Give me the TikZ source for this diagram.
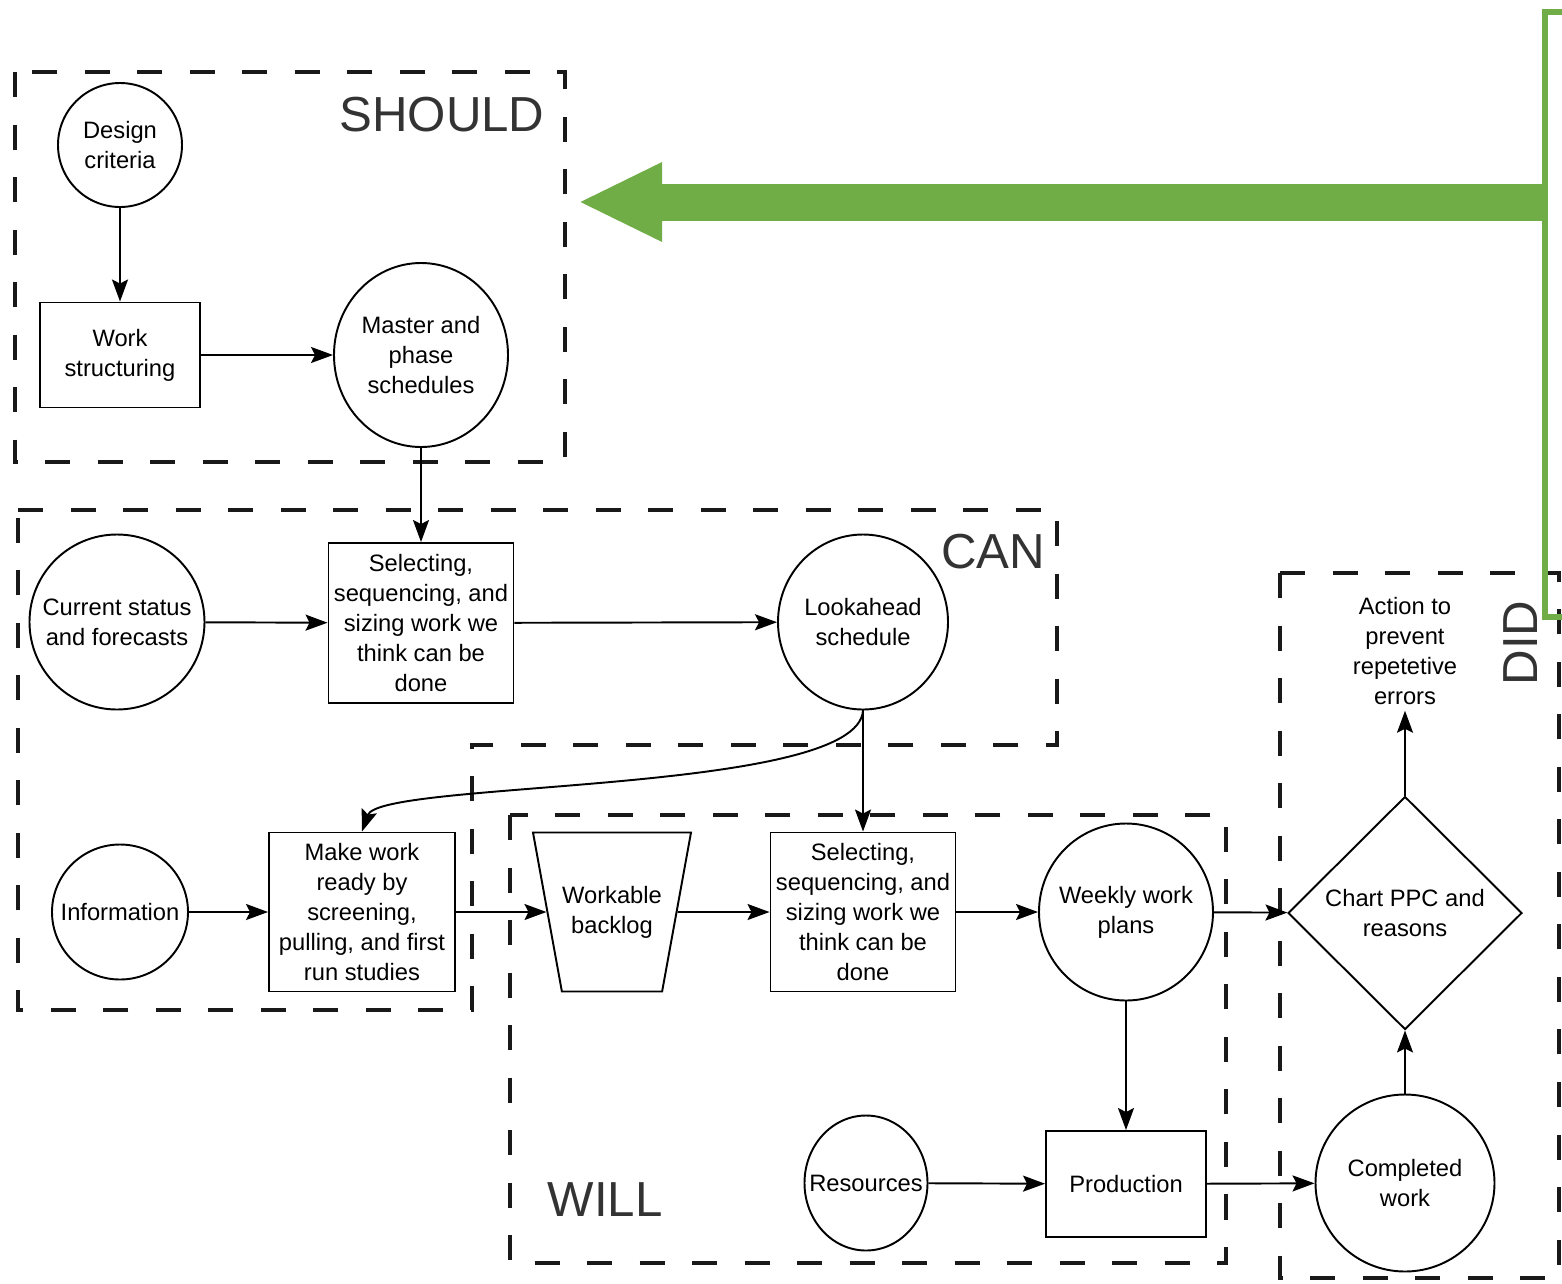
\documentclass[tikz,border=0pt]{standalone}
\usepackage{fontspec}
\setmainfont{Liberation Sans}
\usepackage{xcolor}
\usepackage{tikz}
\usetikzlibrary{arrows.meta,shapes.geometric}

\definecolor{fbgreen}{HTML}{70AD47}

\begin{document}
\begin{tikzpicture}[
  x=0.2mm, y=-0.2mm,
  font=\fontsize{13.5}{17}\selectfont,
  every node/.style={align=center},
  oval/.style={draw=black, line width=1.1pt, ellipse, inner sep=-5mm},
  box/.style={draw=black, line width=1.1pt, rectangle, inner sep=1pt},
  bin/.style={draw=black, line width=1.1pt, trapezium, trapezium angle=79.7,
    shape border rotate=180, trapezium stretches body, inner xsep=0pt, inner ysep=10.7mm},
  gate/.style={draw=black, line width=1.1pt, diamond, aspect=1, inner sep=0pt},
  zone/.style={draw=black!90, line width=2.8pt, dash pattern=on 5mm off 5.5mm},
  zonelbl/.style={font=\fontsize{28}{30}\selectfont, text=black!80},
  arr/.style={-{Stealth[length=4.4mm,width=3.2mm,inset=0.8mm]}, line width=1.1pt},
  fbarr/.style={fbgreen, line width=7.4mm, -{Triangle[length=16.8mm,width=14.6mm]}}
]
\useasboundingbox (0,0) rectangle (1562,1283);
\clip (0,0) rectangle (1562,1283);

% Zones (dashed)
\draw[zone] (15,72) rectangle (565,462);
\draw[zone] (18,510) -- (1057,510) -- (1057,745) -- (472,745) -- (472,1010) -- (18,1010) -- cycle;
\draw[zone] (510,815) rectangle (1226,1263);
\draw[zone] (1280,573) rectangle (1559,1278);

\node[zonelbl] (lshould) at (442,115) {SHOULD};
\node[zonelbl] (lcan) at (993,552) {CAN};
\node[zonelbl] (lwill) at (605,1200) {WILL};
\node[zonelbl, rotate=90] (ldid) at (1521,643) {DID};

% SHOULD
\node[oval, minimum width=24.8mm, minimum height=24.8mm] (design) at (120,145) {Design\\criteria};
\node[box, minimum width=32mm, minimum height=21mm] (wstruct) at (120,355) {Work\\structuring};
\node[oval, minimum width=34.8mm, minimum height=36.8mm] (master) at (421,355) {Master and\\phase\\schedules};

% CAN
\node[oval, minimum width=35mm, minimum height=35mm] (status) at (117,622) {Current status\\and forecasts};
\node[box, minimum width=37mm, minimum height=32mm] (sel1) at (421,623) {Selecting,\\sequencing, and\\sizing work we\\think can be\\done};
\node[oval, minimum width=34mm, minimum height=35mm] (look) at (863,622) {Lookahead\\schedule};
\node[oval, minimum width=27.2mm, minimum height=27mm] (info) at (120,912) {Information};
\node[box, minimum width=37.2mm, minimum height=31.8mm] (ready) at (362,912) {Make work\\ready by\\screening,\\pulling, and first\\run studies};

% WILL
\node[bin, minimum width=31.6mm, minimum height=31.8mm] (backlog) at (612,912) {Workable\\backlog};
\node[box, minimum width=37mm, minimum height=31.8mm] (sel2) at (863,912) {Selecting,\\sequencing, and\\sizing work we\\think can be\\done};
\node[oval, minimum width=34.8mm, minimum height=35.4mm] (weekly) at (1126,912) {Weekly work\\plans};
\node[oval, minimum width=24.6mm, minimum height=27mm] (res) at (866,1183) {Resources};
\node[box, minimum width=32mm, minimum height=21.2mm] (prod) at (1126,1184) {Production};

% DID
\node[gate, minimum width=46.8mm, minimum height=46.6mm] (chart) at (1405,913) {Chart PPC and\\reasons};
\node (action) at (1405,651) {Action to\\prevent\\repetetive\\errors};
\node[oval, minimum width=35.8mm, minimum height=35.4mm] (done) at (1405,1183) {Completed\\work};

% flow
\draw[arr] (design) -- (wstruct);
\draw[arr] (wstruct) -- (master);
\draw[arr] (master) -- (sel1);
\draw[arr] (status) -- (sel1);
\draw[arr] (sel1) -- (look);
\draw[arr] (look.south) .. controls (858,795) and (380,780) .. (ready.north);
\draw[arr] (look) -- (sel2);
\draw[arr] (info) -- (ready);
\draw[arr] (ready) -- (backlog);
\draw[arr] (backlog) -- (sel2);
\draw[arr] (sel2) -- (weekly);
\draw[arr] (weekly) -- (chart);
\draw[arr] (weekly) -- (prod);
\draw[arr] (res) -- (prod);
\draw[arr] (prod) -- (done);
\draw[arr] (done) -- (chart);
\draw[arr] (chart) -- (action);

% feedback (green)
\draw[fbgreen, line width=1.2mm] (1545,12) rectangle (1620,617);
\coordinate (gtail) at (1545,202);
\coordinate (ghead) at (578,202);
\draw[fbarr] (gtail) -- (ghead);

\end{tikzpicture}
\end{document}
